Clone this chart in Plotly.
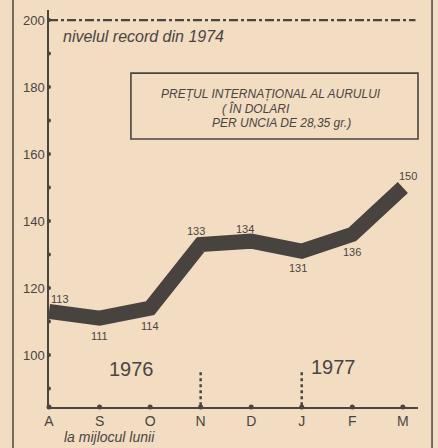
import plotly.graph_objects as go

months = ["A", "S", "O", "N", "D", "J", "F", "M"]
prices = [113, 111, 114, 133, 134, 131, 136, 150]
price_labels = ["113", "111", "114", "133", "134", "131", "136", "150"]
ytick_vals = [100, 120, 140, 160, 180, 200]
ydot_vals = [90, 100, 110, 120, 130, 140, 150, 160, 170, 180, 190, 200]
record_level = 200

BG = "#f2dcc2"
INK = "#4a4541"
LINE = "#48433f"
FONT = "Arial, Liberation Sans, sans-serif"

xs = list(range(len(months)))

fig = go.Figure()

# main thick price band
fig.add_trace(go.Scatter(x=xs, y=prices, mode="lines",
                         line=dict(color=LINE, width=15),
                         hoverinfo="skip", showlegend=False))

# dots on x axis
fig.add_trace(go.Scatter(x=xs, y=[84.5] * len(xs), mode="markers",
                         marker=dict(color=INK, size=5), cliponaxis=False,
                         hoverinfo="skip", showlegend=False))
# dots on y axis
fig.add_trace(go.Scatter(x=[0] * len(ydot_vals), y=ydot_vals, mode="markers",
                         marker=dict(color=INK, size=4), cliponaxis=False,
                         hoverinfo="skip", showlegend=False))

# value labels
label_offsets = [(0.22, 3.6), (0.0, -5.3), (0.0, -5.3), (-0.1, 4.0),
                 (-0.12, 3.6), (-0.08, -5.0), (0.0, -5.3), (0.1, 3.4)]
for x, v, t, (dx, dy) in zip(xs, prices, price_labels, label_offsets):
    fig.add_annotation(x=x + dx, y=v + dy, text=t, showarrow=False,
                       xanchor="center", yanchor="middle",
                       font=dict(family=FONT, size=11, color=INK))

# record level line
fig.add_shape(type="line", x0=0, x1=7.25, y0=record_level, y1=record_level,
              line=dict(color=INK, width=2.2, dash="dashdot"))
fig.add_annotation(x=0.24, y=195, xanchor="left", yanchor="middle",
                   text="<i>nivelul record din 1974</i>",
                   showarrow=False, font=dict(family=FONT, size=16, color=INK))

# title box
fig.add_shape(type="rect", xref="paper", yref="paper", x0=0.222, x1=1.0,
              y0=0.675, y1=0.841, line=dict(color=INK, width=1.6))
title_lines = [("<i>PREȚUL INTERNAȚIONAL AL AURULUI</i>", 0.601, 0.789),
               ("<i>( ÎN DOLARI</i>", 0.561, 0.751),
               ("<i>PER UNCIA DE 28,35 gr.)</i>", 0.629, 0.715)]
for txt, xp, yp in title_lines:
    fig.add_annotation(xref="paper", yref="paper", x=xp, y=yp,
                       xanchor="center", yanchor="middle", text=txt,
                       showarrow=False, font=dict(family=FONT, size=12, color=INK))

# year labels
fig.add_annotation(x=1.64, y=95.8, text="1976", showarrow=False,
                   xanchor="center", yanchor="middle",
                   font=dict(family=FONT, size=20, color=INK))
fig.add_annotation(x=5.62, y=96.4, text="1977", showarrow=False,
                   xanchor="center", yanchor="middle",
                   font=dict(family=FONT, size=20, color=INK))

# year separators (dotted)
for xv in [3, 5]:
    fig.add_shape(type="line", x0=xv, x1=xv, y0=85, y1=95,
                  line=dict(color=INK, width=2.5, dash="dot"))

# frame lines
for xp in [-0.0976, 1.038]:
    fig.add_shape(type="line", xref="paper", yref="paper", x0=xp, x1=xp,
                  y0=-0.12, y1=1.03, line=dict(color=INK, width=1.5))

fig.add_annotation(xref="paper", yref="paper", x=0.035, y=-0.076,
                   xanchor="left", yanchor="middle",
                   text="<i>la mijlocul lunii</i>", showarrow=False,
                   font=dict(family=FONT, size=14, color=INK))

fig.update_xaxes(range=[0, 7.3], tickvals=xs, ticktext=months,
                 showgrid=False, zeroline=False, showline=True,
                 linecolor=INK, linewidth=1.5, ticks="", ticklen=0,
                 tickfont=dict(family=FONT, size=14, color=INK))
fig.update_yaxes(range=[84.5, 203], tickvals=ytick_vals,
                 showgrid=False, zeroline=False, showline=True,
                 linecolor=INK, linewidth=1.5, ticks="",
                 tickfont=dict(family=FONT, size=13, color=INK))

fig.update_layout(width=438, height=448, paper_bgcolor=BG, plot_bgcolor=BG,
                  margin=dict(l=49, r=20, t=10, b=41), showlegend=False)

fig.write_html("out.html", config={"displayModeBar": False},
               post_script="document.body.style.margin='0';"
                           "document.body.style.background='#f2dcc2';"
                           "document.documentElement.style.overflow='hidden';")
